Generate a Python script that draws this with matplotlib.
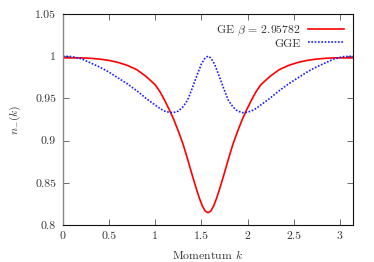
import matplotlib
matplotlib.use('Agg')
import matplotlib.pyplot as plt
import numpy as np

plt.rcParams['font.family'] = 'serif'
plt.rcParams['font.serif'] = ['cmr10']
plt.rcParams['mathtext.fontset'] = 'cm'
plt.rcParams['axes.unicode_minus'] = False
plt.rcParams['font.size'] = 8.5

# GE curve (beta = 2.95782)
k_ge = [0.0, 0.2, 0.3, 0.4, 0.5, 0.6, 0.7, 0.8, 0.9, 1.0, 1.05, 1.1, 1.15, 1.2, 1.25,
        1.3, 1.35, 1.4, 1.45, 1.48, 1.51, 1.54, 1.5708,
        1.6016, 1.6316, 1.6616, 1.6916, 1.7416, 1.7916, 1.8416, 1.8916, 1.9416, 1.9916,
        2.0416, 2.0916, 2.1416, 2.2416, 2.3416, 2.4416, 2.5416, 2.6416, 2.7416, 2.8416,
        2.9416, 3.1416]
n_ge = [0.998, 0.998, 0.9975, 0.9965, 0.995, 0.9925, 0.989, 0.984, 0.976, 0.966, 0.958, 0.948, 0.937, 0.925, 0.911,
        0.896, 0.878, 0.859, 0.841, 0.831, 0.8225, 0.8167, 0.8145,
        0.8167, 0.8225, 0.831, 0.841, 0.859, 0.878, 0.896, 0.911, 0.925, 0.937,
        0.948, 0.958, 0.966, 0.976, 0.984, 0.989, 0.9925, 0.995, 0.9965, 0.9975,
        0.998, 0.998]

# GGE curve
k_gge = [0.0, 0.1, 0.2, 0.3, 0.4, 0.5, 0.6, 0.7, 0.8, 0.9, 1.0, 1.05, 1.1, 1.15, 1.19,
         1.25, 1.3, 1.35, 1.4, 1.45, 1.5, 1.54, 1.5708,
         1.60, 1.64, 1.69, 1.74, 1.79, 1.84, 1.89, 1.95, 1.99, 2.04, 2.09, 2.14,
         2.24, 2.34, 2.44, 2.54, 2.64, 2.74, 2.84, 2.94, 3.04, 3.1416]
n_gge = [1.000, 0.9995, 0.997, 0.992, 0.987, 0.981, 0.974, 0.967, 0.959, 0.950, 0.942, 0.938, 0.935, 0.9335, 0.933,
         0.935, 0.940, 0.948, 0.962, 0.977, 0.991, 0.998, 1.000,
         0.998, 0.991, 0.977, 0.962, 0.948, 0.940, 0.935, 0.933, 0.9335, 0.935, 0.938, 0.942,
         0.950, 0.959, 0.967, 0.974, 0.981, 0.987, 0.992, 0.997, 0.9995, 1.000]

x_ticks = [0, 0.5, 1, 1.5, 2, 2.5, 3]
x_labels = ['0', '0.5', '1', '1.5', '2', '2.5', '3']
y_ticks = [0.8, 0.85, 0.9, 0.95, 1.0, 1.05]
y_labels = ['0.8', '0.85', '0.9', '0.95', '1', '1.05']

fig = plt.figure(figsize=(3.74, 2.62), dpi=100)
ax = fig.add_axes([0.1684, 0.1412, 0.7755, 0.8054])

ax.plot(k_ge, n_ge, color='#ff0000', lw=1.2, label=r'GE $\beta$ = 2.95782')
ax.plot(k_gge, n_gge, color='#1a1aff', lw=1.2, linestyle=(0, (1, 1)), label='GGE')

ax.set_xlim(0, np.pi)
ax.set_ylim(0.8, 1.05)
ax.set_xticks(x_ticks)
ax.set_xticklabels(x_labels)
ax.set_yticks(y_ticks)
ax.set_yticklabels(y_labels)
ax.tick_params(direction='in', top=True, right=True, length=4, width=0.6,
               colors='#555555', labelcolor='#333333', pad=5)

for side in ['top', 'right', 'bottom']:
    ax.spines[side].set_color('#111111')
    ax.spines[side].set_linewidth(0.8)
ax.spines['left'].set_color('#888888')
ax.spines['left'].set_linewidth(1.0)

ax.set_xlabel(r'Momentum $k$', color='#333333', labelpad=5)
ax.set_ylabel(r'$n_{-}(k)$', color='#333333', labelpad=9)

ax.legend(loc='upper right', frameon=False, markerfirst=False, alignment='right',
          handlelength=3.0, handletextpad=0.6, borderaxespad=0.4, borderpad=0.4,
          labelspacing=0.05, fontsize=8.5, labelcolor='#333333')

fig.savefig('out.png', dpi=100)
